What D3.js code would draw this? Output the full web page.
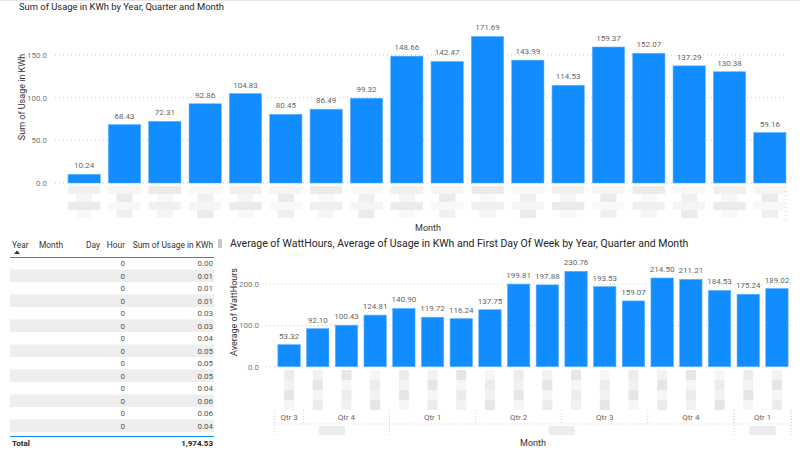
<!DOCTYPE html>
<html>
<head>
<meta charset="utf-8">
<script src="https://cdnjs.cloudflare.com/ajax/libs/d3/7.8.5/d3.min.js"></script>
<style>
  body { margin: 0; background: #fff; }
  svg text { font-family: "Segoe UI", Roboto, "Open Sans", sans-serif; }
</style>
</head>
<body>
<div id="page"></div>
<script>
// months (labels are blurred in the report, keys only)
var months = ["Y1 Sep", "Y1 Oct", "Y1 Nov", "Y1 Dec",
              "Y2 Jan", "Y2 Feb", "Y2 Mar", "Y2 Apr", "Y2 May", "Y2 Jun",
              "Y2 Jul", "Y2 Aug", "Y2 Sep", "Y2 Oct", "Y2 Nov", "Y2 Dec",
              "Y3 Jan", "Y3 Feb"];
var usageKwh = [10.24, 68.43, 72.31, 92.86, 104.83, 80.45, 86.49, 99.32, 148.66,
                142.47, 171.69, 143.99, 114.53, 159.37, 152.07, 137.29, 130.38, 59.16];
var avgWattHours = [53.32, 92.10, 100.43, 124.81, 140.90, 119.72, 116.24, 137.75, 199.81,
                    197.88, 230.76, 193.53, 159.07, 214.50, 211.21, 184.53, 175.24, 189.02];
var quarterLabels = ["Qtr 3", "Qtr 4", "Qtr 1", "Qtr 2", "Qtr 3", "Qtr 4", "Qtr 1"];
var quarterSizes = [1, 3, 3, 3, 3, 3, 2];
var yearSizes = [4, 12, 2];
var topTicks = [0, 50, 100, 150];
var bottomTicks = [0, 100, 200];

var tableColumns = ["Year", "Month", "Day", "Hour", "Sum of Usage in KWh"];
var tableHour = ["0", "0", "0", "0", "0", "0", "0", "0", "0", "0", "0", "0", "0", "0"];
var tableUsage = ["0.00", "0.01", "0.01", "0.01", "0.03", "0.03", "0.04",
                  "0.05", "0.05", "0.05", "0.04", "0.06", "0.06", "0.04"];
var tableTotal = "1,974.53";

window.onload = function() {
  var blue = "#118dff";
  var fmt = d3.format(".2f");

  var svg = d3.select("#page").append("svg")
              .attr("width", 800)
              .attr("height", 452);

  svg.append("line")
     .attr("x1", 0).attr("x2", 800).attr("y1", 0.5).attr("y2", 0.5)
     .style("stroke", "#e6e6e6");

  // blurred label blocks under a band scale
  function blurBlocks(g, x, top, rows) {
    var shades = ["#f0f0f0", "#f5f5f5", "#ebebeb", "#f8f8f8"];
    months.forEach(function(m, i) {
      var bx = x(m), bw = x.bandwidth();
      for (var r = 0; r < rows; r++) {
        g.append("rect")
         .attr("x", bx + (r % 2 ? bw * 0.25 : 0))
         .attr("y", top + r * 8)
         .attr("width", r % 2 ? bw * 0.5 : bw)
         .attr("height", 8)
         .style("fill", shades[(i + r) % 4]);
      }
    });
  }

  // ---------- top chart ----------
  var top = svg.append("g");
  top.append("text")
     .attr("x", 19).attr("y", 10)
     .style("font-size", "9.4px").style("fill", "#252423")
     .text("Sum of Usage in KWh by Year, Quarter and Month");

  var x1 = d3.scaleBand().domain(months).range([64, 790]).paddingInner(0.2).paddingOuter(0.1);
  var y1 = d3.scaleLinear().domain([0, 150]).range([183, 55]);

  top.selectAll(".grid")
     .data(topTicks)
     .enter().append("line")
     .attr("x1", 55).attr("x2", 786)
     .attr("y1", function(d) { return y1(d); })
     .attr("y2", function(d) { return y1(d); })
     .style("stroke", "#c8c8c8").style("stroke-dasharray", "1,3");

  var ax1 = top.append("g")
     .attr("transform", "translate(50,0)")
     .call(d3.axisLeft(y1).tickValues(topTicks).tickFormat(d3.format(".1f")).tickSize(0));
  ax1.select(".domain").remove();
  ax1.selectAll("text").style("font-size", "8px").style("fill", "#777").style("font-family", null);

  top.append("text")
     .attr("transform", "translate(25,97) rotate(-90)")
     .attr("text-anchor", "middle")
     .style("font-size", "9px").style("fill", "#333")
     .text("Sum of Usage in KWh");

  top.selectAll(".bar")
     .data(usageKwh)
     .enter().append("rect")
     .attr("x", function(d, i) { return x1(months[i]); })
     .attr("y", function(d) { return y1(d); })
     .attr("width", x1.bandwidth())
     .attr("height", function(d) { return y1(0) - y1(d); })
     .style("fill", blue)
     .style("stroke", "#5fb2ff").style("stroke-width", 0.6);

  top.selectAll(".lbl")
     .data(usageKwh)
     .enter().append("text")
     .attr("x", function(d, i) { return x1(months[i]) + x1.bandwidth() / 2; })
     .attr("y", function(d) { return y1(d) - 6; })
     .attr("text-anchor", "middle")
     .style("font-size", "8px").style("fill", "#666")
     .text(function(d) { return fmt(d); });

  blurBlocks(top, x1, 186, 4);

  top.append("line")
     .attr("x1", 786).attr("x2", 786).attr("y1", 183).attr("y2", 220)
     .style("stroke", "#d0d0d0").style("stroke-dasharray", "1,3");

  top.append("text")
     .attr("x", 428).attr("y", 231)
     .attr("text-anchor", "middle")
     .style("font-size", "9px").style("fill", "#333")
     .text("Month");

  // ---------- table ----------
  var tbl = svg.append("g");
  var colX = [12, 39, 100, 125, 213];
  var colAnchor = ["start", "start", "end", "end", "end"];
  tbl.selectAll(".hdr")
     .data(tableColumns)
     .enter().append("text")
     .attr("x", function(d, i) { return colX[i]; })
     .attr("y", 248)
     .attr("text-anchor", function(d, i) { return colAnchor[i]; })
     .style("font-size", "8.4px").style("fill", "#333")
     .text(function(d) { return d; });
  tbl.append("path")
     .attr("d", "M14,254 L17,250.5 L20,254 Z")
     .style("fill", "#333");

  var rowH = 12.5;
  tbl.selectAll(".row")
     .data(tableUsage)
     .enter().append("rect")
     .attr("x", 10).attr("y", function(d, i) { return 257 + i * rowH; })
     .attr("width", 204).attr("height", rowH)
     .style("fill", function(d, i) { return i % 2 ? "#eeeeee" : "#ffffff"; });

  tbl.selectAll(".hour")
     .data(tableHour)
     .enter().append("text")
     .attr("x", 125).attr("y", function(d, i) { return 257 + i * rowH + 9; })
     .attr("text-anchor", "end")
     .style("font-size", "8px").style("fill", "#555")
     .text(function(d) { return d; });
  tbl.selectAll(".usage")
     .data(tableUsage)
     .enter().append("text")
     .attr("x", 213).attr("y", function(d, i) { return 257 + i * rowH + 9; })
     .attr("text-anchor", "end")
     .style("font-size", "8px").style("fill", "#555")
     .text(function(d) { return d; });

  tbl.append("line")
     .attr("x1", 10).attr("x2", 214).attr("y1", 257.5).attr("y2", 257.5)
     .style("stroke", "#118dff").style("stroke-width", 1.2);
  tbl.append("line")
     .attr("x1", 10).attr("x2", 214).attr("y1", 436.5).attr("y2", 436.5)
     .style("stroke", "#118dff").style("stroke-width", 1.2);
  tbl.append("text")
     .attr("x", 12).attr("y", 446)
     .style("font-size", "8px").style("font-weight", "bold").style("fill", "#252423")
     .text("Total");
  tbl.append("text")
     .attr("x", 213).attr("y", 446)
     .attr("text-anchor", "end")
     .style("font-size", "8px").style("font-weight", "bold").style("fill", "#252423")
     .text(tableTotal);

  // ---------- bottom chart ----------
  var bot = svg.append("g");
  bot.append("rect")
     .attr("x", 218).attr("y", 239).attr("width", 4).attr("height", 9).attr("rx", 1)
     .style("fill", "#c8c8c8");
  bot.append("text")
     .attr("x", 230).attr("y", 247)
     .style("font-size", "10.5px").style("fill", "#252423")
     .text("Average of WattHours, Average of Usage in KWh and First Day Of Week by Year, Quarter and Month");

  var x2 = d3.scaleBand().domain(months).range([275, 791]).paddingInner(0.22).paddingOuter(0.1);
  var y2 = d3.scaleLinear().domain([0, 200]).range([366.7, 284]);

  bot.selectAll(".grid")
     .data(bottomTicks)
     .enter().append("line")
     .attr("x1", 266).attr("x2", 791)
     .attr("y1", function(d) { return y2(d); })
     .attr("y2", function(d) { return y2(d); })
     .style("stroke", "#c8c8c8").style("stroke-dasharray", "1,3");

  var ax2 = bot.append("g")
     .attr("transform", "translate(262,0)")
     .call(d3.axisLeft(y2).tickValues(bottomTicks).tickFormat(d3.format(".1f")).tickSize(0));
  ax2.select(".domain").remove();
  ax2.selectAll("text").style("font-size", "8px").style("fill", "#777").style("font-family", null);

  bot.append("text")
     .attr("transform", "translate(237,312) rotate(-90)")
     .attr("text-anchor", "middle")
     .style("font-size", "9px").style("fill", "#333")
     .text("Average of WattHours");

  bot.selectAll(".bar")
     .data(avgWattHours)
     .enter().append("rect")
     .attr("x", function(d, i) { return x2(months[i]); })
     .attr("y", function(d) { return y2(d); })
     .attr("width", x2.bandwidth())
     .attr("height", function(d) { return y2(0) - y2(d); })
     .style("fill", blue)
     .style("stroke", "#5fb2ff").style("stroke-width", 0.6);

  bot.selectAll(".lbl")
     .data(avgWattHours)
     .enter().append("text")
     .attr("x", function(d, i) { return x2(months[i]) + x2.bandwidth() / 2; })
     .attr("y", function(d) { return y2(d) - 6; })
     .attr("text-anchor", "middle")
     .style("font-size", "8px").style("fill", "#666")
     .text(function(d) { return fmt(d); });

  // month labels (blurred): vertical blocks
  var shades = ["#ececec", "#f2f2f2", "#e6e6e6", "#f6f6f6"];
  months.forEach(function(m, i) {
    var cx = x2(m) + x2.bandwidth() / 2;
    for (var r = 0; r < 4; r++) {
      bot.append("rect")
         .attr("x", cx - 5).attr("y", 370 + r * 10)
         .attr("width", 10).attr("height", 10)
         .style("fill", shades[(i + r) % 4]);
    }
  });

  // quarter / year hierarchy
  var step = x2.step();
  var startX = x2(months[0]) - step * x2.paddingInner() / 2;
  var idx = 0;
  var qBounds = [startX];
  quarterLabels.forEach(function(q, k) {
    var a = x2(months[idx]), b = x2(months[idx + quarterSizes[k] - 1]) + x2.bandwidth();
    bot.append("text")
       .attr("x", (a + b) / 2).attr("y", 420)
       .attr("text-anchor", "middle")
       .style("font-size", "8px").style("fill", "#666")
       .text(q);
    idx += quarterSizes[k];
    qBounds.push(x2(months[idx - 1]) + x2.bandwidth() + step * x2.paddingInner() / 2);
  });
  bot.selectAll(".qsep")
     .data(qBounds)
     .enter().append("line")
     .attr("x1", function(d) { return d; }).attr("x2", function(d) { return d; })
     .attr("y1", 410).attr("y2", 424)
     .style("stroke", "#d0d0d0").style("stroke-dasharray", "1,2");

  var yIdx = 0;
  var yBounds = [startX];
  yearSizes.forEach(function(n) {
    var a = x2(months[yIdx]), b = x2(months[yIdx + n - 1]) + x2.bandwidth();
    bot.append("rect")
       .attr("x", (a + b) / 2 - 13).attr("y", 426).attr("width", 26).attr("height", 9)
       .style("fill", "#ececec");
    yIdx += n;
    yBounds.push(x2(months[yIdx - 1]) + x2.bandwidth() + step * x2.paddingInner() / 2);
  });
  bot.selectAll(".ysep")
     .data(yBounds)
     .enter().append("line")
     .attr("x1", function(d) { return d; }).attr("x2", function(d) { return d; })
     .attr("y1", 410).attr("y2", 437)
     .style("stroke", "#d0d0d0").style("stroke-dasharray", "1,2");
  bot.append("line")
     .attr("x1", startX).attr("x2", yBounds[yBounds.length - 1]).attr("y1", 424).attr("y2", 424)
     .style("stroke", "#d8d8d8").style("stroke-dasharray", "1,2");

  bot.append("text")
     .attr("x", 533).attr("y", 446)
     .attr("text-anchor", "middle")
     .style("font-size", "9px").style("fill", "#333")
     .text("Month");
};
</script>
</body>
</html>
